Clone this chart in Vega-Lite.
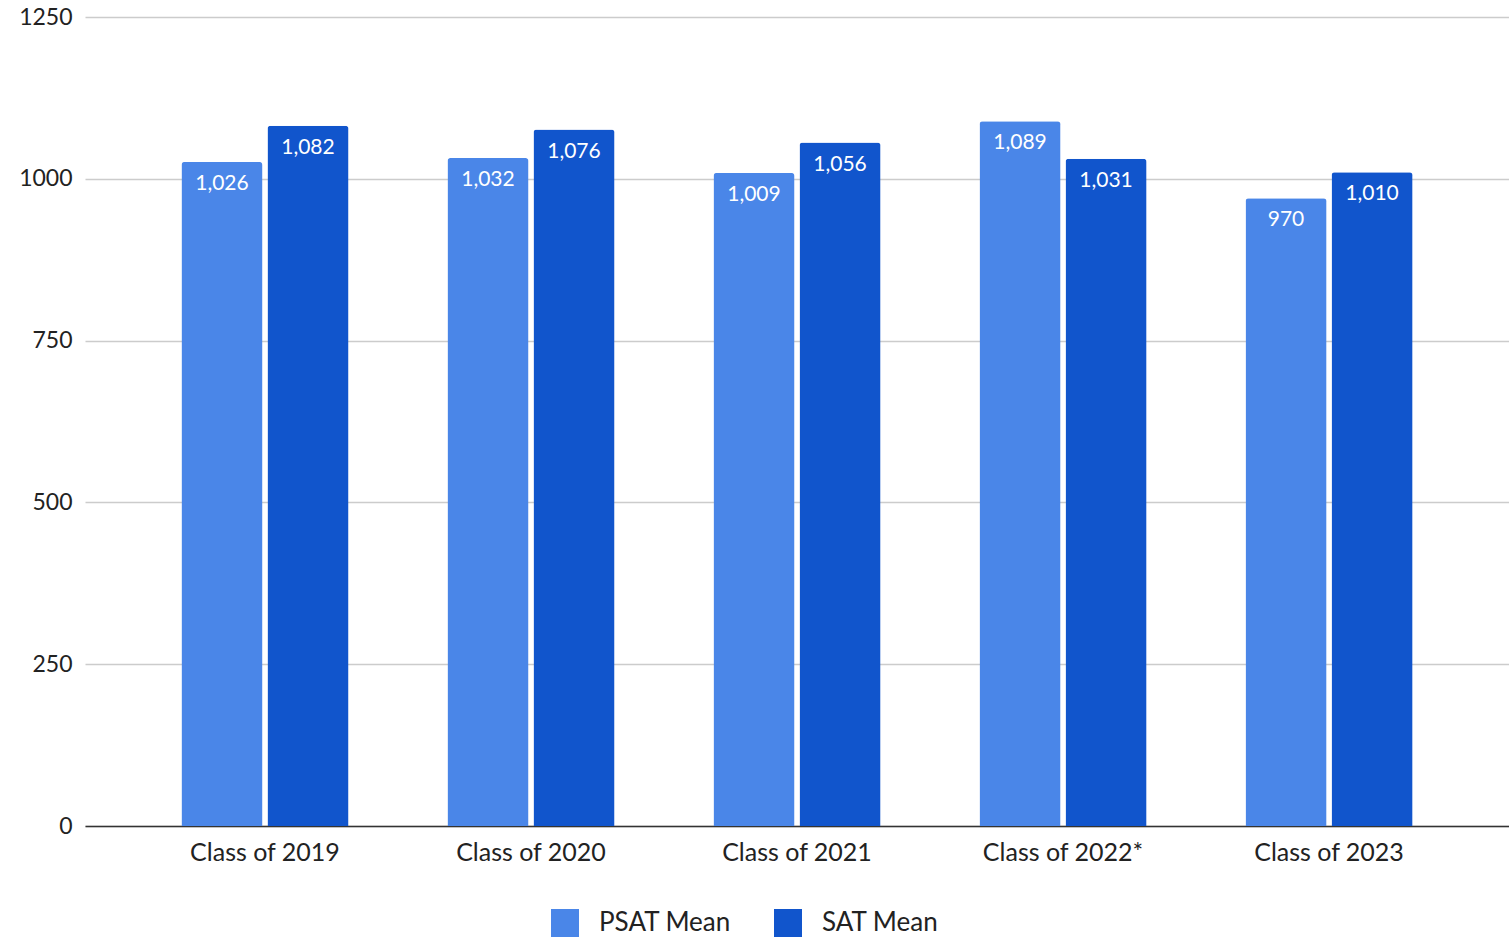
{
  "$schema": "https://vega.github.io/schema/vega-lite/v6.json",
  "autosize": "none",
  "width": 1424,
  "height": 809,
  "padding": {"left": 85, "top": 17, "right": 0, "bottom": 112},
  "background": "white",
  "config": {
    "view": {"stroke": null},
    "font": "Lato",
    "axis": {"labelFont": "Lato", "titleFont": "Lato"},
    "legend": {"labelFont": "Lato"}
  },
  "data": {
    "values": [
      {"cls": "Class of 2019", "series": "PSAT Mean", "value": 1026},
      {"cls": "Class of 2019", "series": "SAT Mean", "value": 1082},
      {"cls": "Class of 2020", "series": "PSAT Mean", "value": 1032},
      {"cls": "Class of 2020", "series": "SAT Mean", "value": 1076},
      {"cls": "Class of 2021", "series": "PSAT Mean", "value": 1009},
      {"cls": "Class of 2021", "series": "SAT Mean", "value": 1056},
      {"cls": "Class of 2022*", "series": "PSAT Mean", "value": 1089},
      {"cls": "Class of 2022*", "series": "SAT Mean", "value": 1031},
      {"cls": "Class of 2023", "series": "PSAT Mean", "value": 970},
      {"cls": "Class of 2023", "series": "SAT Mean", "value": 1010}
    ]
  },
  "encoding": {
    "x": {
      "field": "cls",
      "type": "nominal",
      "sort": null,
      "title": null,
      "scale": {"paddingInner": 0.372, "paddingOuter": 0.3625},
      "axis": {
        "labelAngle": 0,
        "labelFontSize": 25,
        "labelColor": "#222222",
        "labelPadding": 14,
        "ticks": false,
        "domainColor": "#333333",
        "domainWidth": 1.5
      }
    },
    "xOffset": {
      "field": "series",
      "type": "nominal",
      "sort": ["PSAT Mean", "SAT Mean"],
      "scale": {"paddingInner": 0.058}
    },
    "y": {
      "field": "value",
      "type": "quantitative",
      "title": null,
      "scale": {"domain": [0, 1250], "nice": false},
      "axis": {
        "values": [0, 250, 500, 750, 1000, 1250],
        "format": "d",
        "labelFontSize": 23,
        "labelColor": "#222222",
        "labelPadding": 13,
        "ticks": false,
        "domain": false,
        "gridColor": "#cccccc",
        "gridWidth": 1.5
      }
    }
  },
  "layer": [
    {
      "mark": {"type": "bar", "cornerRadiusTopLeft": 3, "cornerRadiusTopRight": 3},
      "encoding": {
        "color": {
          "field": "series",
          "type": "nominal",
          "title": null,
          "scale": {"domain": ["PSAT Mean", "SAT Mean"], "range": ["#4a86e8", "#1155cc"]},
          "legend": {
            "orient": "none",
            "legendX": 466,
            "legendY": 892,
            "direction": "horizontal",
            "symbolType": "square",
            "symbolSize": 784,
            "symbolStrokeWidth": 0,
            "symbolOpacity": 1,
            "labelFontSize": 26,
            "labelColor": "#222222",
            "labelOffset": 20,
            "columnPadding": 42
          }
        }
      }
    },
    {
      "mark": {"type": "text", "color": "white", "fontSize": 21, "baseline": "middle", "dy": 22},
      "encoding": {
        "text": {"field": "value", "type": "quantitative", "format": ","}
      }
    }
  ]
}
